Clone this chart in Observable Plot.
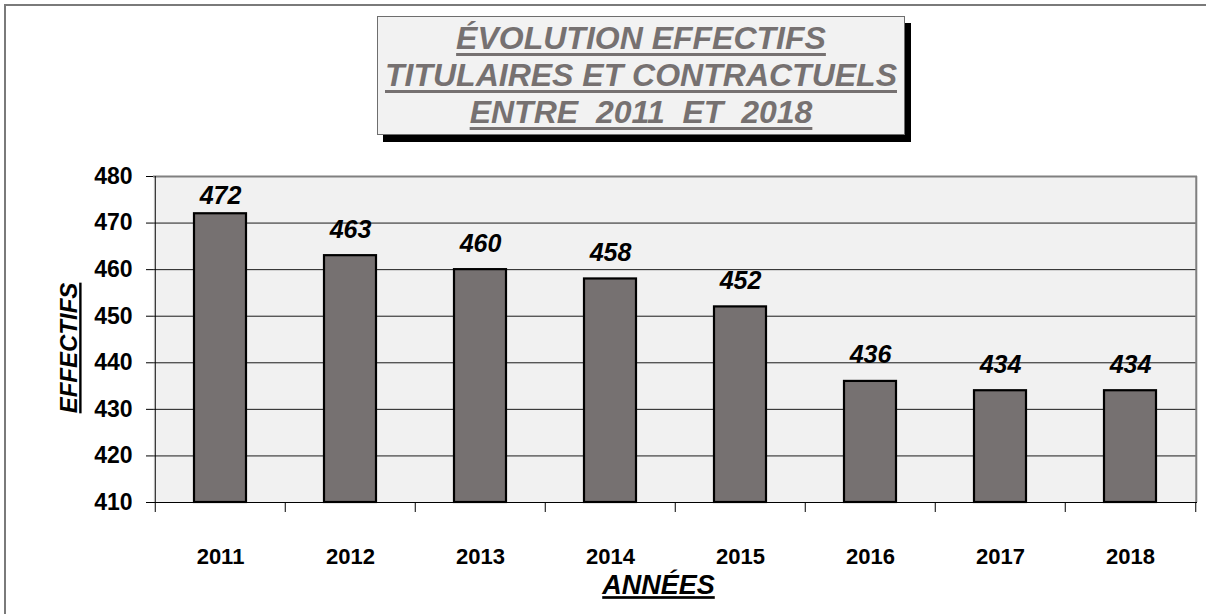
<!DOCTYPE html>
<html>
<head>
<meta charset="utf-8">
<script src="https://cdn.jsdelivr.net/npm/d3@7"></script>
<script src="https://cdn.jsdelivr.net/npm/@observablehq/plot@0.6"></script>
<style>
  html, body { margin: 0; padding: 0; background: #fff; overflow: hidden; }
  #page { position: relative; width: 1206px; height: 614px; overflow: hidden; background: #fff; }
  #outer { position: absolute; left: 4px; top: 4px; width: 1400px; height: 800px; border: 2px solid #7a7a7a; box-sizing: border-box; }
  #chart { position: absolute; left: 0; top: 0; }
  #title {
    position: absolute; left: 377px; top: 16px; width: 528px; height: 119px;
    box-sizing: border-box; border: 1px solid #6e6e6e; background: #f2f2f2;
    box-shadow: 6px 7px 0 0 #000;
    font-family: Arial, "Liberation Sans", sans-serif; font-weight: bold; font-style: italic;
    font-size: 32px; line-height: 37px; color: #767171; text-align: center;
    padding-top: 3px; white-space: pre; text-decoration: underline; text-underline-offset: 4px;
  }
</style>
</head>
<body>
<div id="page">
  <div id="outer"></div>
  <div id="chart"></div>
  <div id="title"></div>
</div>
<script>
// ---- data ----
const titleLines = ["ÉVOLUTION EFFECTIFS", "TITULAIRES ET CONTRACTUELS", "ENTRE  2011  ET  2018"];
const years = ["2011", "2012", "2013", "2014", "2015", "2016", "2017", "2018"];
const effectifs = [472, 463, 460, 458, 452, 436, 434, 434];
const yTicks = [410, 420, 430, 440, 450, 460, 470, 480];
const xTitle = "ANNÉES";
const yTitle = "EFFECTIFS";

const rows = years.map((year, i) => ({year, value: effectifs[i]}));

document.getElementById("title").innerHTML = titleLines.join("<br>");

const font = "Arial, 'Liberation Sans', sans-serif";
const halfStep = 65.25;

const svg = Plot.plot({
  width: 1206,
  height: 614,
  marginLeft: 153,
  marginRight: 9,
  marginTop: 176,
  marginBottom: 112,
  style: {fontFamily: font, fontSize: "22px", color: "#000", background: "transparent", overflow: "visible"},
  x: {domain: years, padding: 0, label: null},
  y: {domain: [410, 480], label: null},
  marks: [
    Plot.frame({fill: "#f1f1f1", stroke: null}),
    Plot.gridY(yTicks.filter(t => t > 410 && t < 480), {stroke: "#1a1a1a", strokeOpacity: 1, strokeWidth: 1}),
    Plot.barY(rows, {x: "year", y1: 410, y2: "value", fill: "#767171", stroke: "#000", strokeWidth: 2.2, insetLeft: 39, insetRight: 39}),
    // plot-area border: gray top and right, black left and bottom axis lines
    Plot.ruleY([480], {stroke: "#808080", strokeWidth: 2}),
    Plot.ruleX([years[years.length - 1]], {dx: halfStep + 0.5, stroke: "#808080", strokeWidth: 2}),
    Plot.ruleX([years[0]], {dx: -halfStep, stroke: "#000"}),
    Plot.ruleY([410], {stroke: "#000"}),
    // category boundary ticks below the axis
    Plot.ruleX(years, {dx: -halfStep, y1: 410, y2: 410, insetBottom: -10, stroke: "#000"}),
    Plot.ruleX([years[years.length - 1]], {dx: halfStep, y1: 410, y2: 410, insetBottom: -10, stroke: "#000"}),
    Plot.axisY(yTicks, {tickSize: 7, tickPadding: 14, fontSize: 23, fontWeight: "bold", fill: "#000", stroke: "#000", label: null}),
    Plot.axisX({tickSize: 0, tickPadding: 46, fontSize: 22, fontWeight: "bold", fill: "#000", label: null}),
    // value labels (kept inside the plot area, like the original)
    Plot.text(rows, {x: "year", y: d => Math.min(d.value, 470.3), text: d => String(d.value), dy: -26,
      fontSize: 25, fontWeight: "bold", fontStyle: "italic", fill: "#000"}),
    Plot.text([xTitle], {frameAnchor: "bottom", textAnchor: "middle", lineAnchor: "middle", text: d => d, dy: 83, dx: -17,
      fontSize: 27, fontWeight: "bold", fontStyle: "italic", fill: "#000"}),
    Plot.text([yTitle], {frameAnchor: "left", textAnchor: "middle", lineAnchor: "middle", text: d => d, rotate: -90, dx: -84, dy: 8.5,
      fontSize: 24, fontWeight: "bold", fontStyle: "italic", fill: "#000"})
  ]
});

d3.select(svg).selectAll("text")
  .filter(function() { return this.textContent === xTitle || this.textContent === yTitle; })
  .style("text-decoration", "underline");

document.getElementById("chart").appendChild(svg);
</script>
</body>
</html>
